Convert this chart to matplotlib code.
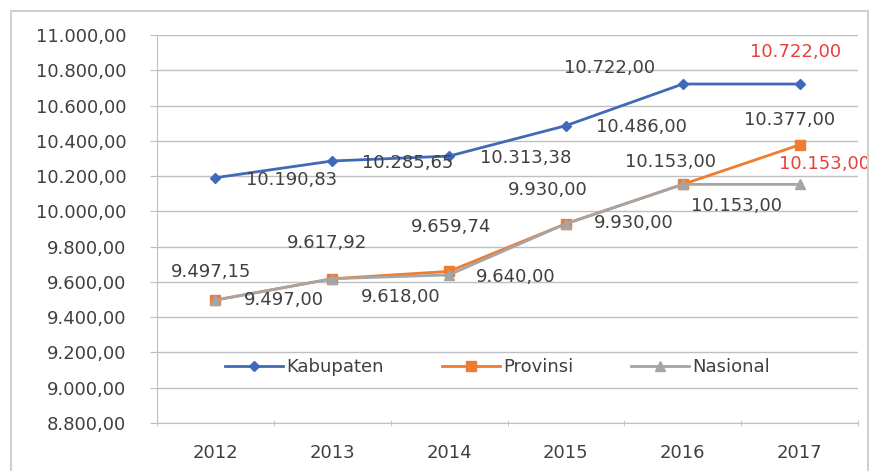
import matplotlib
matplotlib.use("Agg")
import matplotlib.pyplot as plt
from matplotlib.patches import Rectangle
import numpy as np

years = ["2012", "2013", "2014", "2015", "2016", "2017"]
kabupaten = [10190.83, 10285.65, 10313.38, 10486.00, 10722.00, 10722.00]
provinsi = [9497.15, 9617.92, 9659.74, 9930.00, 10153.00, 10377.00]
nasional = [9497.00, 9618.00, 9640.00, 9930.00, 10153.00, 10153.00]


def fmt(v):
    # Indonesian style: 10.190,83
    return f"{v:,.2f}".replace(",", "X").replace(".", ",").replace("X", ".")


plt.rcParams['font.family'] = ['DejaVu Sans']
txt = '#404040'
grid_c = '#BFBFBF'

fig = plt.figure(figsize=(8.77, 4.71), dpi=100)
# light chart frame
fig.patches.append(Rectangle((11 / 877, -0.01), 857 / 877, 1 - 11 / 471 + 0.01,
                             transform=fig.transFigure, fill=False,
                             edgecolor='#D0D0D0', linewidth=1.5))

ax = fig.add_axes([157 / 877, 1 - 423 / 471, 701 / 877, 388 / 471])
x = np.arange(len(years)) + 0.5

ax.plot(x, kabupaten, color='#4169B8', lw=2, marker='D', ms=5, label='Kabupaten', zorder=3)
ax.plot(x, provinsi, color='#ED7D31', lw=2, marker='s', ms=7, label='Provinsi', zorder=4)
ax.plot(x, nasional, color='#A5A5A5', lw=2, marker='^', ms=7, label='Nasional', zorder=5)

# label offsets in pixels (dx, dy) relative to each point
kab_off = [(76, -2), (75, -2), (77, -2), (76, -1), (-73, 16), (-4, 32)]
prov_off = [(-4, 28), (-5, 36), (2, 44), (-18, 34), (-12, 22), (-10, 25)]
nas_off = [(68, 0), (68, -18), (67, -2), (68, 1), (54, -22), (25, 20)]
red = '#E8403A'

for vals, offs, reds in [(kabupaten, kab_off, [5]),
                         (provinsi, prov_off, []),
                         (nasional, nas_off, [5])]:
    for i, (v, o) in enumerate(zip(vals, offs)):
        ax.annotate(fmt(v), (x[i], v), xytext=o, textcoords='offset pixels',
                    ha='center', va='center', fontsize=13,
                    color=red if i in reds else txt, zorder=6,
                    annotation_clip=False)

ax.set_xlim(0, len(years))
ax.set_ylim(8800, 11000)
yt = np.arange(8800, 11001, 200)
ax.set_yticks(yt)
ax.set_yticklabels([fmt(v) for v in yt])
ax.set_xticks(x)
ax.set_xticklabels(years)
ax.set_xticks(np.arange(len(years) + 1), minor=True)
ax.tick_params(axis='x', which='major', length=0, pad=15, labelsize=13, labelcolor=txt)
ax.tick_params(axis='x', which='minor', length=5, direction='inout', color=grid_c)
ax.tick_params(axis='y', length=5, color=grid_c, pad=17, labelsize=13, labelcolor=txt)
ax.grid(axis='y', color=grid_c, lw=1)
ax.set_axisbelow(True)
for s in ['top', 'right']:
    ax.spines[s].set_visible(False)
for s in ['left', 'bottom']:
    ax.spines[s].set_color(grid_c)

ax.legend(loc='center', bbox_to_anchor=(0.486, 0.144), ncol=3, frameon=False,
          fontsize=13, labelcolor=txt, columnspacing=3.2, handlelength=3.2,
          handletextpad=0.2)

fig.savefig('out.png', dpi=100, facecolor='white')
